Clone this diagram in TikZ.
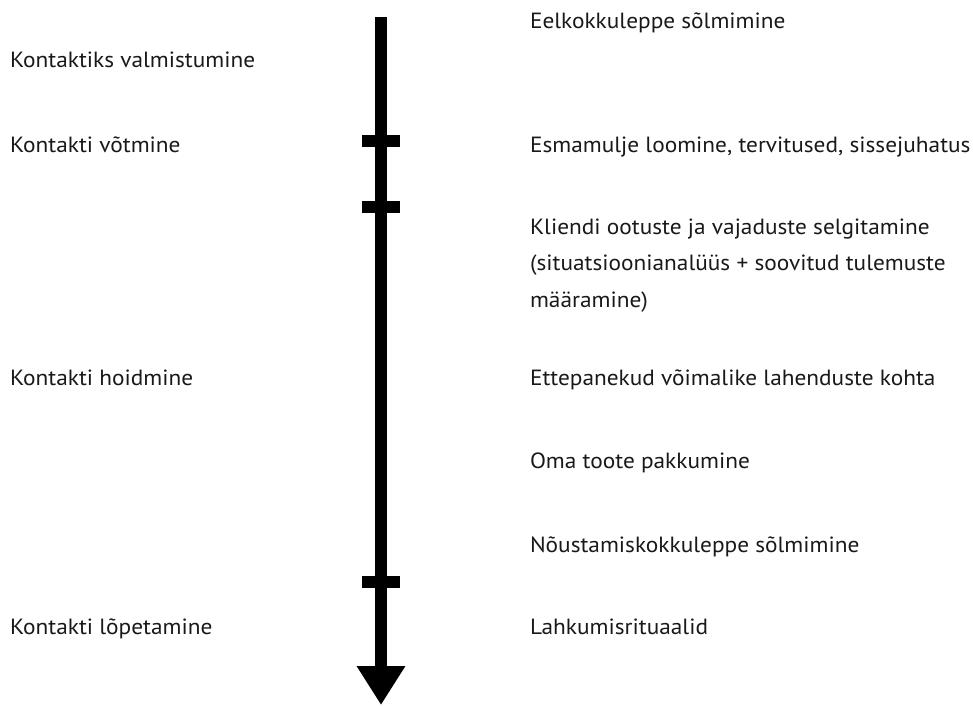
\documentclass[tikz,border=0pt]{standalone}
\usepackage{fontspec}
\setmainfont{PT Sans}[FakeStretch=1.06]
\usetikzlibrary{arrows.meta}
\begin{document}
\begin{tikzpicture}[x=1pt,y=-1pt,
  lbl/.style={anchor=base west,inner sep=0pt,outer sep=0pt,font=\fontsize{22}{36.5}\selectfont,align=left,text=black!90},
  tickmark/.style={line width=12pt,line cap=butt},
  axis/.style={line width=11.5pt,line cap=butt,-{Triangle[width=46pt,length=39pt]}}]
\useasboundingbox (0,0) rectangle (973,705);
\coordinate (top) at (381,17);
\coordinate (bottom) at (381,705);
\draw[axis] (top) -- (bottom);
\coordinate (t1a) at (362,141); \coordinate (t1b) at (400,141);
\coordinate (t2a) at (362,207); \coordinate (t2b) at (400,207);
\coordinate (t3a) at (362,582); \coordinate (t3b) at (400,582);
\draw[tickmark] (t1a) -- (t1b);
\draw[tickmark] (t2a) -- (t2b);
\draw[tickmark] (t3a) -- (t3b);
% left column
\node[lbl] (l1) at (10,67) {Kontaktiks valmistumine};
\node[lbl] (l2) at (10,152) {Kontakti võtmine};
\node[lbl] (l3) at (10,385) {Kontakti hoidmine};
\node[lbl] (l4) at (10,634) {Kontakti lõpetamine};
% right column
\node[lbl] (r1) at (530,28) {Eelkokkuleppe sõlmimine};
\node[lbl] (r2) at (530,152) {Esmamulje loomine, tervitused, sissejuhatus};
\node[lbl] (r3) at (530,307) {Kliendi ootuste ja vajaduste selgitamine\\(situatsioonianalüüs + soovitud tulemuste\\määramine)};
\node[lbl] (r4) at (530,385) {Ettepanekud võimalike lahenduste kohta};
\node[lbl] (r5) at (530,468) {Oma toote pakkumine};
\node[lbl] (r6) at (530,552) {Nõustamiskokkuleppe sõlmimine};
\node[lbl] (r7) at (530,634) {Lahkumisrituaalid};
\end{tikzpicture}
\end{document}
